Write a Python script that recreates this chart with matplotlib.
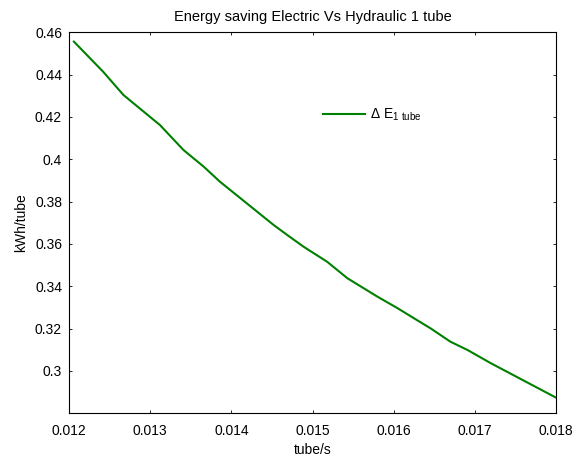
import matplotlib
matplotlib.use("Agg")
import matplotlib.pyplot as plt

plt.rcParams["font.family"] = ["Liberation Sans", "DejaVu Sans"]
plt.rcParams["mathtext.fontset"] = "custom"
plt.rcParams["mathtext.rm"] = "Liberation Sans"

# values
flow = [0.01206, 0.01242, 0.01267, 0.01312, 0.01341, 0.01366, 0.01386,
        0.01419, 0.01452, 0.01469, 0.01489, 0.01518, 0.01543, 0.01580,
        0.01605, 0.01625, 0.01646, 0.01670, 0.01691, 0.01720, 0.01800]
saving = [0.4556, 0.4414, 0.4304, 0.4162, 0.4044, 0.3965, 0.3894,
          0.3792, 0.3690, 0.3642, 0.3587, 0.3516, 0.3438, 0.3351,
          0.3296, 0.3249, 0.3200, 0.3138, 0.3099, 0.3036, 0.2874]

xticks = [0.012, 0.013, 0.014, 0.015, 0.016, 0.017, 0.018]
yticks = [0.3, 0.32, 0.34, 0.36, 0.38, 0.4, 0.42, 0.44, 0.46]
ytick_labels = ["0.3", "0.32", "0.34", "0.36", "0.38", "0.4", "0.42", "0.44", "0.46"]

fig = plt.figure(figsize=(5.82, 4.59), dpi=100)
ax = fig.add_axes([0.1186, 0.0996, 0.8367, 0.83])

ax.plot(flow, saving, color=(0, 0.5, 0), linewidth=1.5,
        label=r"$\Delta$ E$_{\mathrm{1\ tube}}$")

ax.set_xlim(0.012, 0.018)
ax.set_ylim(0.28, 0.46)
ax.set_xticks(xticks)
ax.set_xticklabels([f"{t:.3f}" for t in xticks])
ax.set_yticks(yticks)
ax.set_yticklabels(ytick_labels)
ax.tick_params(direction="in", top=True, right=True, length=2.5, width=0.6,
               labelsize=10)
ax.tick_params(axis="x", pad=8)
ax.tick_params(axis="y", pad=5)
for s in ax.spines.values():
    s.set_linewidth(0.8)

ax.set_title("Energy saving Electric Vs Hydraulic 1 tube", fontsize=10.5, pad=8)
ax.set_xlabel("tube/s", fontsize=10, labelpad=3)
ax.set_ylabel("kWh/tube", fontsize=10, labelpad=5)

ax.legend(frameon=False, loc="center left", bbox_to_anchor=(0.5216, 0.783),
          borderpad=0, borderaxespad=0, handlelength=3.0, handletextpad=0.4,
          fontsize=10)

fig.savefig("out.png", dpi=100)
